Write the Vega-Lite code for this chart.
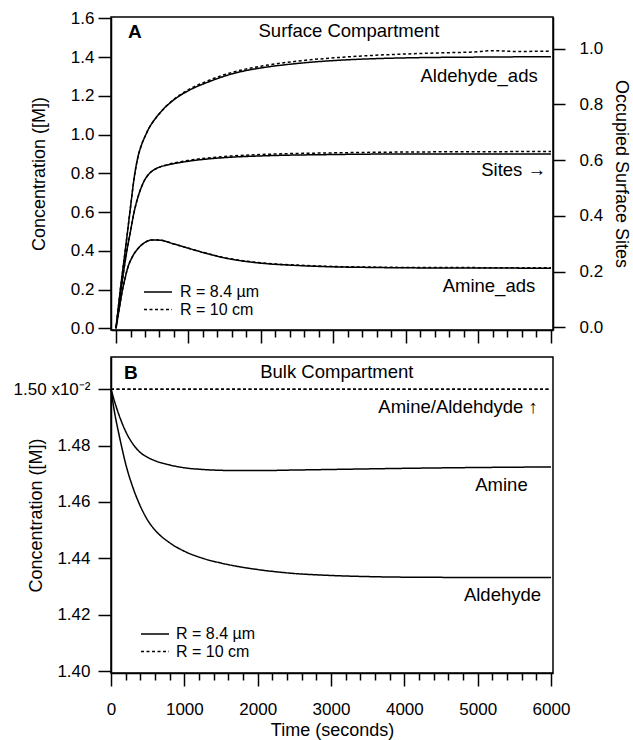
{
  "$schema": "https://vega.github.io/schema/vega-lite/v6.json",
  "padding": {"left": 12, "top": 8, "right": 2, "bottom": 1},
  "config": {
    "font": "Liberation Sans",
    "view": {"stroke": "black", "strokeWidth": 1.5},
    "axis": {
      "grid": false, "tickCount": 100,
      "domainColor": "black", "domainWidth": 1.5,
      "tickColor": "black", "tickWidth": 1.5,
      "labelColor": "black", "labelFontSize": 17, "labelFont": "Liberation Sans",
      "titleColor": "black", "titleFontSize": 18, "titleFontWeight": "normal", "titleFont": "Liberation Sans"
    },
    "legend": {
      "orient": "none", "title": null, "padding": 0,
      "symbolType": "M-2,0H2", "symbolSize": 196, "symbolStrokeWidth": 1.5, "symbolStrokeColor": "black", "symbolFillColor": "transparent",
      "labelFontSize": 16, "labelColor": "black", "labelFont": "Liberation Sans", "rowPadding": 1.6
    }
  },
  "datasets": {
    "surface": [
      {"t": 0, "c": 0, "sp": "Aldehyde_ads", "R": "R = 8.4 µm"},
      {"t": 30, "c": 0.10, "sp": "Aldehyde_ads", "R": "R = 8.4 µm"},
      {"t": 60, "c": 0.20, "sp": "Aldehyde_ads", "R": "R = 8.4 µm"},
      {"t": 100, "c": 0.32, "sp": "Aldehyde_ads", "R": "R = 8.4 µm"},
      {"t": 140, "c": 0.44, "sp": "Aldehyde_ads", "R": "R = 8.4 µm"},
      {"t": 200, "c": 0.625, "sp": "Aldehyde_ads", "R": "R = 8.4 µm"},
      {"t": 250, "c": 0.775, "sp": "Aldehyde_ads", "R": "R = 8.4 µm"},
      {"t": 300, "c": 0.88, "sp": "Aldehyde_ads", "R": "R = 8.4 µm"},
      {"t": 350, "c": 0.945, "sp": "Aldehyde_ads", "R": "R = 8.4 µm"},
      {"t": 400, "c": 0.99, "sp": "Aldehyde_ads", "R": "R = 8.4 µm"},
      {"t": 450, "c": 1.03, "sp": "Aldehyde_ads", "R": "R = 8.4 µm"},
      {"t": 500, "c": 1.06, "sp": "Aldehyde_ads", "R": "R = 8.4 µm"},
      {"t": 650, "c": 1.13, "sp": "Aldehyde_ads", "R": "R = 8.4 µm"},
      {"t": 800, "c": 1.18, "sp": "Aldehyde_ads", "R": "R = 8.4 µm"},
      {"t": 1000, "c": 1.227, "sp": "Aldehyde_ads", "R": "R = 8.4 µm"},
      {"t": 1250, "c": 1.268, "sp": "Aldehyde_ads", "R": "R = 8.4 µm"},
      {"t": 1500, "c": 1.302, "sp": "Aldehyde_ads", "R": "R = 8.4 µm"},
      {"t": 1750, "c": 1.327, "sp": "Aldehyde_ads", "R": "R = 8.4 µm"},
      {"t": 2000, "c": 1.344, "sp": "Aldehyde_ads", "R": "R = 8.4 µm"},
      {"t": 2500, "c": 1.367, "sp": "Aldehyde_ads", "R": "R = 8.4 µm"},
      {"t": 3000, "c": 1.382, "sp": "Aldehyde_ads", "R": "R = 8.4 µm"},
      {"t": 3500, "c": 1.391, "sp": "Aldehyde_ads", "R": "R = 8.4 µm"},
      {"t": 4000, "c": 1.396, "sp": "Aldehyde_ads", "R": "R = 8.4 µm"},
      {"t": 5000, "c": 1.400, "sp": "Aldehyde_ads", "R": "R = 8.4 µm"},
      {"t": 6000, "c": 1.402, "sp": "Aldehyde_ads", "R": "R = 8.4 µm"},

      {"t": 0, "c": 0, "sp": "Aldehyde_ads", "R": "R = 10 cm"},
      {"t": 30, "c": 0.10, "sp": "Aldehyde_ads", "R": "R = 10 cm"},
      {"t": 60, "c": 0.20, "sp": "Aldehyde_ads", "R": "R = 10 cm"},
      {"t": 100, "c": 0.32, "sp": "Aldehyde_ads", "R": "R = 10 cm"},
      {"t": 140, "c": 0.44, "sp": "Aldehyde_ads", "R": "R = 10 cm"},
      {"t": 200, "c": 0.625, "sp": "Aldehyde_ads", "R": "R = 10 cm"},
      {"t": 250, "c": 0.775, "sp": "Aldehyde_ads", "R": "R = 10 cm"},
      {"t": 300, "c": 0.88, "sp": "Aldehyde_ads", "R": "R = 10 cm"},
      {"t": 350, "c": 0.945, "sp": "Aldehyde_ads", "R": "R = 10 cm"},
      {"t": 400, "c": 0.99, "sp": "Aldehyde_ads", "R": "R = 10 cm"},
      {"t": 450, "c": 1.03, "sp": "Aldehyde_ads", "R": "R = 10 cm"},
      {"t": 500, "c": 1.06, "sp": "Aldehyde_ads", "R": "R = 10 cm"},
      {"t": 650, "c": 1.13, "sp": "Aldehyde_ads", "R": "R = 10 cm"},
      {"t": 800, "c": 1.182, "sp": "Aldehyde_ads", "R": "R = 10 cm"},
      {"t": 1000, "c": 1.232, "sp": "Aldehyde_ads", "R": "R = 10 cm"},
      {"t": 1250, "c": 1.275, "sp": "Aldehyde_ads", "R": "R = 10 cm"},
      {"t": 1500, "c": 1.31, "sp": "Aldehyde_ads", "R": "R = 10 cm"},
      {"t": 1750, "c": 1.335, "sp": "Aldehyde_ads", "R": "R = 10 cm"},
      {"t": 2000, "c": 1.353, "sp": "Aldehyde_ads", "R": "R = 10 cm"},
      {"t": 2500, "c": 1.379, "sp": "Aldehyde_ads", "R": "R = 10 cm"},
      {"t": 3000, "c": 1.396, "sp": "Aldehyde_ads", "R": "R = 10 cm"},
      {"t": 3500, "c": 1.408, "sp": "Aldehyde_ads", "R": "R = 10 cm"},
      {"t": 4000, "c": 1.416, "sp": "Aldehyde_ads", "R": "R = 10 cm"},
      {"t": 4500, "c": 1.422, "sp": "Aldehyde_ads", "R": "R = 10 cm"},
      {"t": 5000, "c": 1.428, "sp": "Aldehyde_ads", "R": "R = 10 cm"},
      {"t": 5150, "c": 1.433, "sp": "Aldehyde_ads", "R": "R = 10 cm"},
      {"t": 5300, "c": 1.432, "sp": "Aldehyde_ads", "R": "R = 10 cm"},
      {"t": 5500, "c": 1.429, "sp": "Aldehyde_ads", "R": "R = 10 cm"},
      {"t": 6000, "c": 1.431, "sp": "Aldehyde_ads", "R": "R = 10 cm"},

      {"t": 0, "c": 0, "sp": "Amine_ads", "R": "R = 8.4 µm"},
      {"t": 40, "c": 0.09, "sp": "Amine_ads", "R": "R = 8.4 µm"},
      {"t": 80, "c": 0.18, "sp": "Amine_ads", "R": "R = 8.4 µm"},
      {"t": 120, "c": 0.25, "sp": "Amine_ads", "R": "R = 8.4 µm"},
      {"t": 160, "c": 0.31, "sp": "Amine_ads", "R": "R = 8.4 µm"},
      {"t": 220, "c": 0.365, "sp": "Amine_ads", "R": "R = 8.4 µm"},
      {"t": 300, "c": 0.41, "sp": "Amine_ads", "R": "R = 8.4 µm"},
      {"t": 400, "c": 0.443, "sp": "Amine_ads", "R": "R = 8.4 µm"},
      {"t": 500, "c": 0.456, "sp": "Amine_ads", "R": "R = 8.4 µm"},
      {"t": 600, "c": 0.455, "sp": "Amine_ads", "R": "R = 8.4 µm"},
      {"t": 800, "c": 0.435, "sp": "Amine_ads", "R": "R = 8.4 µm"},
      {"t": 1000, "c": 0.413, "sp": "Amine_ads", "R": "R = 8.4 µm"},
      {"t": 1250, "c": 0.386, "sp": "Amine_ads", "R": "R = 8.4 µm"},
      {"t": 1500, "c": 0.363, "sp": "Amine_ads", "R": "R = 8.4 µm"},
      {"t": 1750, "c": 0.347, "sp": "Amine_ads", "R": "R = 8.4 µm"},
      {"t": 2000, "c": 0.336, "sp": "Amine_ads", "R": "R = 8.4 µm"},
      {"t": 2500, "c": 0.324, "sp": "Amine_ads", "R": "R = 8.4 µm"},
      {"t": 3000, "c": 0.317, "sp": "Amine_ads", "R": "R = 8.4 µm"},
      {"t": 3500, "c": 0.314, "sp": "Amine_ads", "R": "R = 8.4 µm"},
      {"t": 4000, "c": 0.312, "sp": "Amine_ads", "R": "R = 8.4 µm"},
      {"t": 5000, "c": 0.311, "sp": "Amine_ads", "R": "R = 8.4 µm"},
      {"t": 6000, "c": 0.310, "sp": "Amine_ads", "R": "R = 8.4 µm"},

      {"t": 0, "c": 0, "sp": "Amine_ads", "R": "R = 10 cm"},
      {"t": 40, "c": 0.09, "sp": "Amine_ads", "R": "R = 10 cm"},
      {"t": 80, "c": 0.18, "sp": "Amine_ads", "R": "R = 10 cm"},
      {"t": 120, "c": 0.25, "sp": "Amine_ads", "R": "R = 10 cm"},
      {"t": 160, "c": 0.31, "sp": "Amine_ads", "R": "R = 10 cm"},
      {"t": 220, "c": 0.365, "sp": "Amine_ads", "R": "R = 10 cm"},
      {"t": 300, "c": 0.41, "sp": "Amine_ads", "R": "R = 10 cm"},
      {"t": 400, "c": 0.443, "sp": "Amine_ads", "R": "R = 10 cm"},
      {"t": 500, "c": 0.456, "sp": "Amine_ads", "R": "R = 10 cm"},
      {"t": 600, "c": 0.455, "sp": "Amine_ads", "R": "R = 10 cm"},
      {"t": 800, "c": 0.435, "sp": "Amine_ads", "R": "R = 10 cm"},
      {"t": 1000, "c": 0.413, "sp": "Amine_ads", "R": "R = 10 cm"},
      {"t": 1250, "c": 0.387, "sp": "Amine_ads", "R": "R = 10 cm"},
      {"t": 1500, "c": 0.364, "sp": "Amine_ads", "R": "R = 10 cm"},
      {"t": 1750, "c": 0.349, "sp": "Amine_ads", "R": "R = 10 cm"},
      {"t": 2000, "c": 0.338, "sp": "Amine_ads", "R": "R = 10 cm"},
      {"t": 2500, "c": 0.326, "sp": "Amine_ads", "R": "R = 10 cm"},
      {"t": 3000, "c": 0.319, "sp": "Amine_ads", "R": "R = 10 cm"},
      {"t": 3500, "c": 0.316, "sp": "Amine_ads", "R": "R = 10 cm"},
      {"t": 4000, "c": 0.314, "sp": "Amine_ads", "R": "R = 10 cm"},
      {"t": 5000, "c": 0.313, "sp": "Amine_ads", "R": "R = 10 cm"},
      {"t": 6000, "c": 0.312, "sp": "Amine_ads", "R": "R = 10 cm"}
    ],
    "sites": [
      {"t": 0, "s": 0, "R": "R = 8.4 µm"},
      {"t": 50, "s": 0.097, "R": "R = 8.4 µm"},
      {"t": 100, "s": 0.192, "R": "R = 8.4 µm"},
      {"t": 150, "s": 0.275, "R": "R = 8.4 µm"},
      {"t": 200, "s": 0.345, "R": "R = 8.4 µm"},
      {"t": 250, "s": 0.414, "R": "R = 8.4 µm"},
      {"t": 300, "s": 0.465, "R": "R = 8.4 µm"},
      {"t": 350, "s": 0.503, "R": "R = 8.4 µm"},
      {"t": 400, "s": 0.531, "R": "R = 8.4 µm"},
      {"t": 450, "s": 0.549, "R": "R = 8.4 µm"},
      {"t": 500, "s": 0.561, "R": "R = 8.4 µm"},
      {"t": 600, "s": 0.575, "R": "R = 8.4 µm"},
      {"t": 700, "s": 0.582, "R": "R = 8.4 µm"},
      {"t": 1000, "s": 0.596, "R": "R = 8.4 µm"},
      {"t": 1500, "s": 0.609, "R": "R = 8.4 µm"},
      {"t": 2000, "s": 0.615, "R": "R = 8.4 µm"},
      {"t": 3000, "s": 0.620, "R": "R = 8.4 µm"},
      {"t": 4000, "s": 0.622, "R": "R = 8.4 µm"},
      {"t": 5000, "s": 0.622, "R": "R = 8.4 µm"},
      {"t": 6000, "s": 0.622, "R": "R = 8.4 µm"},

      {"t": 0, "s": 0, "R": "R = 10 cm"},
      {"t": 50, "s": 0.097, "R": "R = 10 cm"},
      {"t": 100, "s": 0.192, "R": "R = 10 cm"},
      {"t": 150, "s": 0.275, "R": "R = 10 cm"},
      {"t": 200, "s": 0.345, "R": "R = 10 cm"},
      {"t": 250, "s": 0.414, "R": "R = 10 cm"},
      {"t": 300, "s": 0.465, "R": "R = 10 cm"},
      {"t": 350, "s": 0.503, "R": "R = 10 cm"},
      {"t": 400, "s": 0.531, "R": "R = 10 cm"},
      {"t": 450, "s": 0.549, "R": "R = 10 cm"},
      {"t": 500, "s": 0.561, "R": "R = 10 cm"},
      {"t": 600, "s": 0.575, "R": "R = 10 cm"},
      {"t": 700, "s": 0.583, "R": "R = 10 cm"},
      {"t": 1000, "s": 0.599, "R": "R = 10 cm"},
      {"t": 1500, "s": 0.613, "R": "R = 10 cm"},
      {"t": 2000, "s": 0.620, "R": "R = 10 cm"},
      {"t": 3000, "s": 0.626, "R": "R = 10 cm"},
      {"t": 4000, "s": 0.629, "R": "R = 10 cm"},
      {"t": 5000, "s": 0.630, "R": "R = 10 cm"},
      {"t": 6000, "s": 0.631, "R": "R = 10 cm"}
    ],
    "bulk": [
      {"t": 0, "c": 1.500, "sp": "Amine", "R": "R = 8.4 µm"},
      {"t": 50, "c": 1.4955, "sp": "Amine", "R": "R = 8.4 µm"},
      {"t": 100, "c": 1.4915, "sp": "Amine", "R": "R = 8.4 µm"},
      {"t": 150, "c": 1.4880, "sp": "Amine", "R": "R = 8.4 µm"},
      {"t": 200, "c": 1.4850, "sp": "Amine", "R": "R = 8.4 µm"},
      {"t": 300, "c": 1.4805, "sp": "Amine", "R": "R = 8.4 µm"},
      {"t": 400, "c": 1.4775, "sp": "Amine", "R": "R = 8.4 µm"},
      {"t": 500, "c": 1.4758, "sp": "Amine", "R": "R = 8.4 µm"},
      {"t": 600, "c": 1.4746, "sp": "Amine", "R": "R = 8.4 µm"},
      {"t": 800, "c": 1.4731, "sp": "Amine", "R": "R = 8.4 µm"},
      {"t": 1000, "c": 1.4721, "sp": "Amine", "R": "R = 8.4 µm"},
      {"t": 1250, "c": 1.4715, "sp": "Amine", "R": "R = 8.4 µm"},
      {"t": 1500, "c": 1.4712, "sp": "Amine", "R": "R = 8.4 µm"},
      {"t": 1750, "c": 1.4711, "sp": "Amine", "R": "R = 8.4 µm"},
      {"t": 2000, "c": 1.4711, "sp": "Amine", "R": "R = 8.4 µm"},
      {"t": 2500, "c": 1.4713, "sp": "Amine", "R": "R = 8.4 µm"},
      {"t": 3000, "c": 1.4715, "sp": "Amine", "R": "R = 8.4 µm"},
      {"t": 4000, "c": 1.4719, "sp": "Amine", "R": "R = 8.4 µm"},
      {"t": 5000, "c": 1.4722, "sp": "Amine", "R": "R = 8.4 µm"},
      {"t": 6000, "c": 1.4724, "sp": "Amine", "R": "R = 8.4 µm"},

      {"t": 0, "c": 1.500, "sp": "Aldehyde", "R": "R = 8.4 µm"},
      {"t": 50, "c": 1.4915, "sp": "Aldehyde", "R": "R = 8.4 µm"},
      {"t": 100, "c": 1.4850, "sp": "Aldehyde", "R": "R = 8.4 µm"},
      {"t": 150, "c": 1.4790, "sp": "Aldehyde", "R": "R = 8.4 µm"},
      {"t": 200, "c": 1.4735, "sp": "Aldehyde", "R": "R = 8.4 µm"},
      {"t": 300, "c": 1.4650, "sp": "Aldehyde", "R": "R = 8.4 µm"},
      {"t": 400, "c": 1.4585, "sp": "Aldehyde", "R": "R = 8.4 µm"},
      {"t": 500, "c": 1.4535, "sp": "Aldehyde", "R": "R = 8.4 µm"},
      {"t": 600, "c": 1.4500, "sp": "Aldehyde", "R": "R = 8.4 µm"},
      {"t": 800, "c": 1.4455, "sp": "Aldehyde", "R": "R = 8.4 µm"},
      {"t": 1000, "c": 1.4425, "sp": "Aldehyde", "R": "R = 8.4 µm"},
      {"t": 1250, "c": 1.4400, "sp": "Aldehyde", "R": "R = 8.4 µm"},
      {"t": 1500, "c": 1.4383, "sp": "Aldehyde", "R": "R = 8.4 µm"},
      {"t": 1750, "c": 1.4370, "sp": "Aldehyde", "R": "R = 8.4 µm"},
      {"t": 2000, "c": 1.4360, "sp": "Aldehyde", "R": "R = 8.4 µm"},
      {"t": 2500, "c": 1.4346, "sp": "Aldehyde", "R": "R = 8.4 µm"},
      {"t": 3000, "c": 1.4339, "sp": "Aldehyde", "R": "R = 8.4 µm"},
      {"t": 3500, "c": 1.4335, "sp": "Aldehyde", "R": "R = 8.4 µm"},
      {"t": 4000, "c": 1.4333, "sp": "Aldehyde", "R": "R = 8.4 µm"},
      {"t": 5000, "c": 1.4332, "sp": "Aldehyde", "R": "R = 8.4 µm"},
      {"t": 6000, "c": 1.4332, "sp": "Aldehyde", "R": "R = 8.4 µm"},

      {"t": 0, "c": 1.500, "sp": "Amine", "R": "R = 10 cm"},
      {"t": 6000, "c": 1.500, "sp": "Amine", "R": "R = 10 cm"},
      {"t": 0, "c": 1.500, "sp": "Aldehyde", "R": "R = 10 cm"},
      {"t": 6000, "c": 1.500, "sp": "Aldehyde", "R": "R = 10 cm"}
    ],
    "textsA_left": [{"t": 166, "c": 1.531, "label": "A"}],
    "textsA_center": [{"t": 3214, "c": 1.534, "label": "Surface Compartment"}],
    "textsA_right": [
      {"t": 5817, "c": 1.302, "label": "Aldehyde_ads"},
      {"t": 5931, "c": 0.817, "label": "Sites →"},
      {"t": 5783, "c": 0.218, "label": "Amine_ads"}
    ],
    "textsB_left": [{"t": 177, "c": 1.5059, "label": "B"}],
    "textsB_center": [{"t": 3079, "c": 1.5061, "label": "Bulk Compartment"}],
    "textsB_right": [
      {"t": 5819, "c": 1.4935, "label": "Amine/Aldehdyde ↑"},
      {"t": 5682, "c": 1.4660, "label": "Amine"},
      {"t": 5864, "c": 1.4270, "label": "Aldehyde"}
    ]
  },
  "vconcat": [
    {
      "width": 442,
      "height": 313,
      "layer": [
        {
          "layer": [
            {
              "data": {"name": "surface"},
              "mark": {"type": "line", "interpolate": "monotone", "color": "black", "strokeWidth": 1.5},
              "encoding": {
                "x": {
                  "field": "t", "type": "quantitative",
                  "scale": {"domain": [-69, 6028], "nice": false, "zero": false},
                  "axis": {
                    "title": null, "labels": false, "tickCount": 100,
                    "values": [0,200,400,600,800,1000,1200,1400,1600,1800,2000,2200,2400,2600,2800,3000,3200,3400,3600,3800,4000,4200,4400,4600,4800,5000,5200,5400,5600,5800,6000],
                    "tickSize": {"condition": {"test": "datum.value % 1000 === 0", "value": 13}, "value": 7}
                  }
                },
                "y": {
                  "field": "c", "type": "quantitative",
                  "scale": {"domain": [-0.009, 1.607], "nice": false, "zero": false},
                  "axis": {
                    "title": "Concentration ([M])", "tickCount": 100,
                    "values": [0, 0.2, 0.4, 0.6, 0.8, 1.0, 1.2, 1.4, 1.6],
                    "format": ".1f", "tickSize": 13, "labelPadding": 4,
                    "titleX": -72, "titleBaseline": "middle"
                  }
                },
                "detail": {"field": "sp", "type": "nominal"},
                "strokeDash": {
                  "field": "R", "type": "nominal",
                  "scale": {"domain": ["R = 8.4 µm", "R = 10 cm"], "range": [[1, 0], [3, 2.5]]},
                  "legend": {"legendX": 39, "legendY": 267, "labelOffset": 14}
                }
              }
            },
            {
              "data": {"name": "textsA_left"},
              "mark": {"type": "text", "align": "left", "baseline": "middle", "fontSize": 19, "fontWeight": "bold", "color": "black"},
              "encoding": {
                "x": {"field": "t", "type": "quantitative"},
                "y": {"field": "c", "type": "quantitative"},
                "text": {"field": "label"}
              }
            },
            {
              "data": {"name": "textsA_center"},
              "mark": {"type": "text", "align": "center", "baseline": "middle", "fontSize": 18.5, "color": "black"},
              "encoding": {
                "x": {"field": "t", "type": "quantitative"},
                "y": {"field": "c", "type": "quantitative"},
                "text": {"field": "label"}
              }
            },
            {
              "data": {"name": "textsA_right"},
              "mark": {"type": "text", "align": "right", "baseline": "middle", "fontSize": 18.5, "color": "black"},
              "encoding": {
                "x": {"field": "t", "type": "quantitative"},
                "y": {"field": "c", "type": "quantitative"},
                "text": {"field": "label"}
              }
            }
          ]
        },
        {
          "data": {"name": "sites"},
          "mark": {"type": "line", "interpolate": "monotone", "color": "black", "strokeWidth": 1.5},
          "encoding": {
            "x": {"field": "t", "type": "quantitative"},
            "y": {
              "field": "s", "type": "quantitative",
              "scale": {"domain": [-0.009, 1.113], "nice": false, "zero": false},
              "axis": {
                "orient": "right", "title": "Occupied Surface Sites", "tickCount": 100,
                "values": [0, 0.2, 0.4, 0.6, 0.8, 1.0],
                "format": ".1f", "tickSize": 12, "labelPadding": 14, "titlePadding": 9
              }
            },
            "strokeDash": {"field": "R", "type": "nominal"}
          }
        }
      ],
      "resolve": {"scale": {"y": "independent"}, "axis": {"y": "independent"}}
    },
    {
      "width": 442,
      "height": 316,
      "layer": [
        {
          "data": {"name": "bulk"},
          "mark": {"type": "line", "interpolate": "monotone", "color": "black", "strokeWidth": 1.5},
          "encoding": {
            "x": {
              "field": "t", "type": "quantitative",
              "scale": {"domain": [0, 6027], "nice": false, "zero": false},
              "axis": {
                "title": "Time (seconds)", "tickCount": 100,
                "values": [0,200,400,600,800,1000,1200,1400,1600,1800,2000,2200,2400,2600,2800,3000,3200,3400,3600,3800,4000,4200,4400,4600,4800,5000,5200,5400,5600,5800,6000],
                "labelExpr": "datum.value % 1000 === 0 ? datum.label : ''",
                "format": "d",
                "labelFlush": false, "labelOverlap": false, "labelBound": false,
                "tickSize": {"condition": {"test": "datum.value % 1000 === 0", "value": 13}, "value": 7},
                "labelPadding": 15, "titlePadding": 4
              }
            },
            "y": {
              "field": "c", "type": "quantitative",
              "scale": {"domain": [1.3993, 1.5114], "nice": false, "zero": false},
              "axis": {
                "title": "Concentration ([M])", "tickCount": 100,
                "values": [1.40, 1.42, 1.44, 1.46, 1.48, 1.50],
                "labelExpr": "abs(datum.value - 1.5) < 1e-6 ? '1.50 x10⁻²' : format(datum.value, '.2f')",
                "tickSize": 13, "labelPadding": 8,
                "titleX": -75, "titleBaseline": "middle"
              }
            },
            "detail": {"field": "sp", "type": "nominal"},
            "strokeDash": {
              "field": "R", "type": "nominal",
              "scale": {"domain": ["R = 8.4 µm", "R = 10 cm"], "range": [[1, 0], [3, 2.5]]},
              "legend": {"legendX": 36, "legendY": 269, "labelOffset": 13}
            }
          }
        },
        {
          "data": {"name": "textsB_left"},
          "mark": {"type": "text", "align": "left", "baseline": "middle", "fontSize": 19, "fontWeight": "bold", "color": "black"},
          "encoding": {
            "x": {"field": "t", "type": "quantitative"},
            "y": {"field": "c", "type": "quantitative"},
            "text": {"field": "label"}
          }
        },
        {
          "data": {"name": "textsB_center"},
          "mark": {"type": "text", "align": "center", "baseline": "middle", "fontSize": 18.5, "color": "black"},
          "encoding": {
            "x": {"field": "t", "type": "quantitative"},
            "y": {"field": "c", "type": "quantitative"},
            "text": {"field": "label"}
          }
        },
        {
          "data": {"name": "textsB_right"},
          "mark": {"type": "text", "align": "right", "baseline": "middle", "fontSize": 18.5, "color": "black"},
          "encoding": {
            "x": {"field": "t", "type": "quantitative"},
            "y": {"field": "c", "type": "quantitative"},
            "text": {"field": "label"}
          }
        }
      ]
    }
  ],
  "spacing": 11,
  "resolve": {
    "scale": {"x": "independent", "y": "independent", "strokeDash": "independent"},
    "legend": {"strokeDash": "independent"}
  }
}
